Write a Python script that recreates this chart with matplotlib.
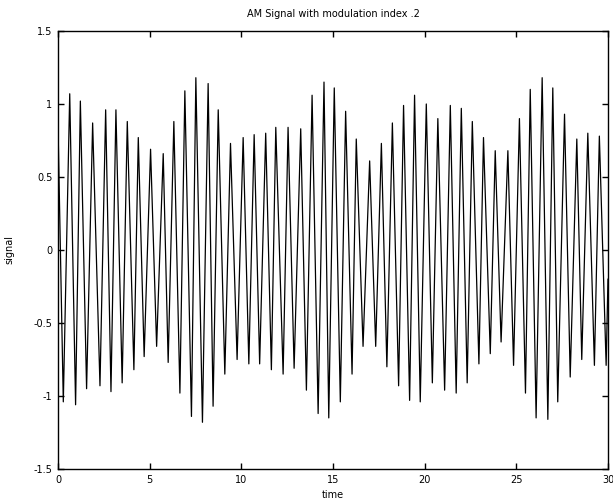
import matplotlib
matplotlib.use("Agg")
import matplotlib.pyplot as plt
import numpy as np

title = "AM Signal with modulation index .2"
xlabel = "time"
ylabel = "signal"

# upper turning points of the carrier (time, value)
t_top = [0.0, 0.64, 1.22, 1.89, 2.60, 3.16, 3.78, 4.38, 5.05, 5.74, 6.32, 6.92,
         7.52, 8.19, 8.74, 9.41, 10.10, 10.70, 11.33, 11.88, 12.55, 13.24, 13.86, 14.51,
         15.07, 15.69, 16.27, 17.00, 17.64, 18.24, 18.85, 19.45, 20.09, 20.72, 21.40, 22.00,
         22.60, 23.21, 23.85, 24.54, 25.17, 25.76, 26.41, 26.99, 27.63, 28.30, 28.90, 29.53]
v_top = [0.86, 1.07, 1.02, 0.87, 0.96, 0.96, 0.88, 0.77, 0.69, 0.66, 0.88, 1.09,
         1.18, 1.14, 0.96, 0.73, 0.77, 0.79, 0.80, 0.84, 0.84, 0.83, 1.06, 1.15,
         1.11, 0.95, 0.76, 0.61, 0.73, 0.87, 0.99, 1.06, 1.00, 0.90, 0.99, 0.97,
         0.88, 0.77, 0.68, 0.68, 0.90, 1.10, 1.18, 1.11, 0.93, 0.76, 0.80, 0.78]

# lower turning points of the carrier (time, value)
t_bot = [0.29, 0.96, 1.56, 2.29, 2.89, 3.50, 4.14, 4.70, 5.38, 6.01, 6.65, 7.28,
         7.88, 8.46, 9.10, 9.77, 10.41, 11.00, 11.64, 12.28, 12.88, 13.55, 14.19, 14.77,
         15.40, 16.04, 16.64, 17.33, 17.94, 18.58, 19.18, 19.76, 20.42, 21.09, 21.72, 22.32,
         22.96, 23.58, 24.17, 24.85, 25.50, 26.08, 26.72, 27.26, 27.94, 28.57, 29.26, 29.90]
v_bot = [-1.04, -1.06, -0.95, -0.93, -0.97, -0.91, -0.82, -0.73, -0.66, -0.77, -0.98, -1.14,
         -1.18, -1.07, -0.85, -0.75, -0.78, -0.78, -0.82, -0.85, -0.81, -0.96, -1.12, -1.15,
         -1.04, -0.85, -0.66, -0.66, -0.80, -0.93, -1.03, -1.04, -0.91, -0.96, -0.98, -0.91,
         -0.78, -0.71, -0.63, -0.79, -0.98, -1.15, -1.16, -1.04, -0.87, -0.75, -0.79, -0.79]

t_end = [30.0]
v_end = [-0.2]

xticks = [0, 5, 10, 15, 20, 25, 30]
yticks = [-1.5, -1, -0.5, 0, 0.5, 1, 1.5]
yticklabels = ["-1.5", "-1", "-0.5", "0", "0.5", "1", "1.5"]

t = np.concatenate([t_top, t_bot, t_end])
v = np.concatenate([v_top, v_bot, v_end])
order = np.argsort(t)
t = t[order]
v = v[order]

fig = plt.figure(figsize=(6.13, 5.03), dpi=100)
ax = fig.add_axes([0.0946, 0.0676, 0.8972, 0.8708])
ax.plot(t, v, color="black", linewidth=0.9)

ax.set_xlim(0, 30)
ax.set_ylim(-1.5, 1.5)
ax.set_xticks(xticks)
ax.set_xticklabels([str(x) for x in xticks])
ax.set_yticks(yticks)
ax.set_yticklabels(yticklabels)
ax.tick_params(direction="in", length=4, width=1, top=True, right=True,
               labelsize=7, colors="black")
ax.tick_params(axis="x", pad=4)
ax.tick_params(axis="y", pad=4)
for s in ax.spines.values():
    s.set_linewidth(1.0)
    s.set_color("black")

ax.set_title(title, fontsize=7, pad=10)
ax.set_xlabel(xlabel, fontsize=7, labelpad=4)
ax.set_ylabel(ylabel, fontsize=7, labelpad=14)

fig.savefig("out.png", dpi=100)
